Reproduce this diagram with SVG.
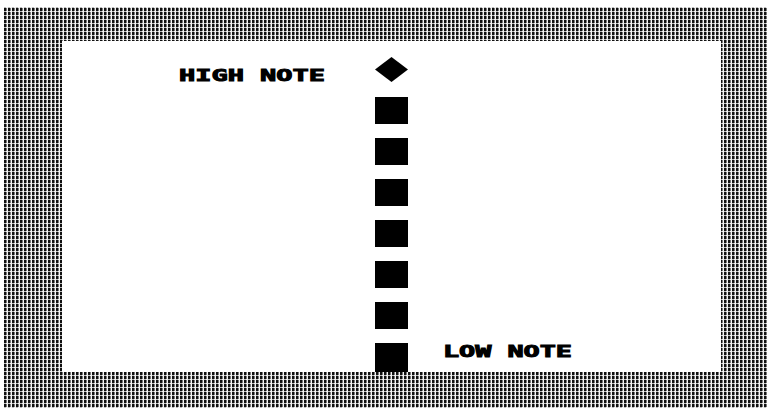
<svg xmlns="http://www.w3.org/2000/svg" width="767" height="408" viewBox="0 0 767 408">
<defs>
<pattern id="dither" width="4" height="4" patternUnits="userSpaceOnUse">
<rect width="4" height="4" fill="#f4f4f4"/>
<rect x="0" y="0" width="2" height="3" fill="#111"/>
<rect x="2" y="0" width="1" height="3" fill="#777"/>
<rect x="0" y="3" width="2" height="1" fill="#bbb"/>
</pattern>
</defs>
<style>
.key{fill:#000}
.lbl{font-family:"DejaVu Sans Mono","Liberation Mono",monospace;font-weight:bold;font-size:15px;fill:#000;stroke:#000;stroke-width:0.9}
</style>
<rect width="767" height="408" fill="#fff"/>
<rect x="4" y="7" width="763" height="401" fill="url(#dither)"/>
<rect x="62" y="41" width="659" height="331" fill="#fff"/>
<g id="high-label"><text class="lbl" x="179" y="80.5" textLength="146" lengthAdjust="spacingAndGlyphs">HIGH NOTE</text></g>
<g id="high-note"><polygon class="key" points="391.5,57 408,69.5 391.5,82 375,69.5"/></g>
<g id="key-1"><rect class="key" x="375" y="97" width="33" height="27"/></g>
<g id="key-2"><rect class="key" x="375" y="138" width="33" height="27"/></g>
<g id="key-3"><rect class="key" x="375" y="179" width="33" height="27"/></g>
<g id="key-4"><rect class="key" x="375" y="220" width="33" height="27"/></g>
<g id="key-5"><rect class="key" x="375" y="261" width="33" height="27"/></g>
<g id="key-6"><rect class="key" x="375" y="302" width="33" height="27"/></g>
<g id="key-7"><rect class="key" x="375" y="343" width="33" height="29"/></g>
<g id="low-label"><text class="lbl" x="443" y="356.5" textLength="129" lengthAdjust="spacingAndGlyphs">LOW NOTE</text></g>
<g id="connectors"/>
</svg>
